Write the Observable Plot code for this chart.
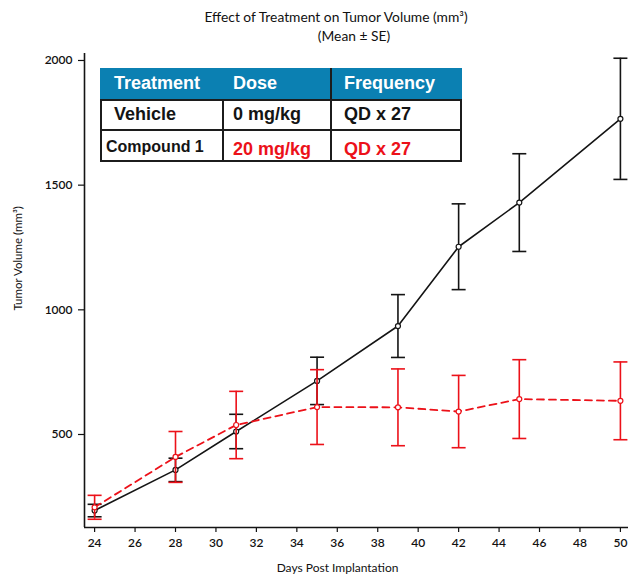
<!DOCTYPE html>
<html>
<head>
<meta charset="utf-8">
<script src="https://cdn.jsdelivr.net/npm/d3@7"></script>
<script src="https://cdn.jsdelivr.net/npm/@observablehq/plot@0.6"></script>
<style>
  html, body { margin: 0; padding: 0; background: #fff; }
  #wrap { position: relative; width: 629px; height: 578px; overflow: hidden; font-family: Lato, "Open Sans", sans-serif; }
  #titlebox { position: relative; height: 44px; }
  .t1 { position: absolute; left: 0; width: 672px; text-align: center; top: 8px; font-size: 13.8px; color: #111; }
  .t2 { position: absolute; left: 0; width: 708px; text-align: center; top: 27px; font-size: 13.8px; color: #111; }
  #tbl { position: absolute; left: 100px; top: 68px; width: 362px; height: 94px; box-sizing: border-box;
         border: 2px solid #1c1c1c; font-family: "Liberation Sans", Arial, sans-serif; font-weight: bold; }
  .cell { position: absolute; box-sizing: border-box; display: flex; align-items: center; white-space: nowrap; }
  .hd { background: #0b80b2; color: #fff; }
  #chart svg g[aria-label="y-axis tick label"] text, #chart svg g[aria-label="x-axis tick label"] text { font-weight: 600; }
</style>
</head>
<body>
<div id="wrap">
  <div id="titlebox">
    <div class="t1">Effect of Treatment on Tumor Volume (mm³)</div>
    <div class="t2">(Mean ± SE)</div>
  </div>
  <div id="chart"></div>
  <div id="tbl"></div>
</div>
<script>
// ---- data ----
const days = [24, 28, 31, 35, 39, 42, 45, 50];
const vehicleMean = [195, 358, 512, 715, 935, 1253, 1430, 1766];
const vehicleSE   = [25, 47, 69, 95, 126, 172, 196, 243];
const compoundMean = [208, 410, 538, 610, 609, 592, 642, 635];
const compoundSE   = [48, 102, 135, 150, 154, 145, 158, 156];
const xTicks = [24, 26, 28, 30, 32, 34, 36, 38, 40, 42, 44, 46, 48, 50];
const yTicks = [500, 1000, 1500, 2000];

const tableHeader = ["Treatment", "Dose", "Frequency"];
const tableRows = [
  ["Vehicle", "0 mg/kg", "QD x 27"],
  ["Compound 1", "20 mg/kg", "QD x 27"]
];

// ---- build rows ----
const vehicle = days.map((d, i) => ({day: d, mean: vehicleMean[i], lo: vehicleMean[i] - vehicleSE[i], hi: vehicleMean[i] + vehicleSE[i]}));
const compound = days.map((d, i) => ({day: d, mean: compoundMean[i], lo: compoundMean[i] - compoundSE[i], hi: compoundMean[i] + compoundSE[i]}));

const BLACK = "#141414";
const RED = "#ec1119";

const cap = {
  draw(ctx, size) {
    const r = Math.sqrt(size / Math.PI);
    ctx.moveTo(-r, 0);
    ctx.lineTo(r, 0);
  }
};

function seriesMarks(data, color, dash) {
  return [
    Plot.ruleX(data, {x: "day", y1: "lo", y2: "hi", stroke: color, strokeWidth: 1.6}),
    Plot.dot(data, {x: "day", y: "lo", symbol: cap, r: 7, stroke: color, strokeWidth: 1.6, fill: "none"}),
    Plot.dot(data, {x: "day", y: "hi", symbol: cap, r: 7, stroke: color, strokeWidth: 1.6, fill: "none"}),
    Plot.line(data, {x: "day", y: "mean", stroke: color, strokeWidth: dash ? 1.8 : 1.6, strokeDasharray: dash || null}),
    Plot.dot(data, {x: "day", y: "mean", r: 2.5, stroke: color, strokeWidth: 1.2, fill: "white"})
  ];
}

const chart = Plot.plot({
  width: 629,
  height: 534,
  marginLeft: 84,
  marginRight: 1,
  marginTop: 9,
  marginBottom: 51,
  style: {fontFamily: "Lato, 'Open Sans', sans-serif", fontSize: "12px", color: "#111", background: "white"},
  x: {domain: [23.5, 50.4]},
  y: {domain: [127, 2028]},
  marks: [
    Plot.axisY(yTicks, {tickSize: 6, tickPadding: 6, label: null, strokeWidth: 1.2, tickFormat: d => String(d)}),
    Plot.axisX(xTicks, {tickSize: 5, tickPadding: 6, label: null, strokeWidth: 1.2, tickFormat: d => String(d)}),
    Plot.ruleX([23.5], {stroke: BLACK, strokeWidth: 1.6}),
    Plot.ruleY([127], {stroke: BLACK, strokeWidth: 1.6}),
    ...seriesMarks(vehicle, BLACK, null),
    ...seriesMarks(compound, RED, "7,5"),
    Plot.text(["Tumor Volume (mm³)"], {frameAnchor: "left", dx: -66, dy: 20, rotate: -90, fontSize: 11.5, fill: "#111"}),
    Plot.text(["Days Post Implantation"], {frameAnchor: "bottom", dx: -19, dy: 44, fontSize: 12, fill: "#111"})
  ]
});
document.getElementById("chart").appendChild(chart);

// ---- table overlay ----
const tbl = document.getElementById("tbl");
const colW = [122, 110, 130];
const rowH = [31, 32, 31];
const padL = [[14, 11, 12], [14, 11, 12], [6, 11, 12]];
const fs = [[18, 18, 18], [18, 18, 18], [16, 18, 18]];
const colors = [["#fff", "#fff", "#fff"], [BLACK, BLACK, BLACK], [BLACK, RED, RED]];
const allRows = [tableHeader, ...tableRows];
let yOff = 0;
allRows.forEach((row, ri) => {
  let xOff = 0;
  row.forEach((txt, ci) => {
    const c = document.createElement("div");
    c.className = "cell" + (ri === 0 ? " hd" : "");
    c.style.left = (xOff - 2) + "px";
    c.style.top = (yOff - 2) + "px";
    c.style.width = (colW[ci] + (ci === 0 ? 2 : 0)) + "px";
    c.style.height = (rowH[ri] + (ri === 0 ? 2 : 0)) + "px";
    c.style.paddingLeft = padL[ri][ci] + "px";
    c.style.fontSize = fs[ri][ci] + "px";
    c.style.color = colors[ri][ci];
    if (ci < 2) c.style.borderRight = "2px solid #1c1c1c";
    if (ri < 2) c.style.borderBottom = "2px solid #1c1c1c";
    if (ri === 2 && ci > 0) { c.style.paddingTop = "6px"; }
    c.textContent = txt;
    tbl.appendChild(c);
    xOff += colW[ci];
  });
  yOff += rowH[ri];
});
</script>
</body>
</html>
